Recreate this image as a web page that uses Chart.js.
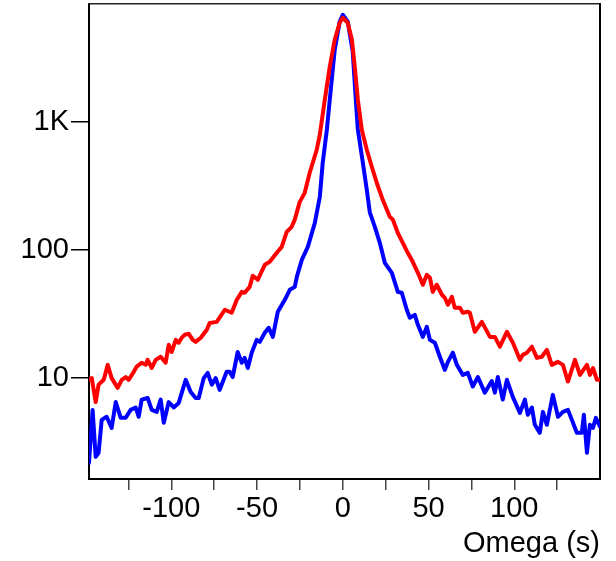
<!DOCTYPE html>
<html>
<head>
<meta charset="utf-8">
<script src="https://cdn.jsdelivr.net/npm/chart.js@4"></script>
<style>
  html, body { margin: 0; padding: 0; background: #fff; }
  #wrap { width: 616px; height: 561px; }
</style>
</head>
<body>
<div id="wrap"><canvas id="omegaChart"></canvas></div>
<script>
// omega scan, two traces (red drawn on top of blue)
const redOmega = [-148, -146.4, -144.1, -142.4, -139.4, -137.1, -134.8, -131.3, -128.9, -126.6, -124.9, -121.9, -120.2, -117.3, -114.9, -113.8, -111.4, -109.1, -106.2, -103.3, -101.5, -99.8, -97.4, -95.7, -93.9, -92.2, -89.8, -87.5, -85.8, -82.8, -79.3, -77.6, -73.5, -68.8, -64.8, -61.8, -58.9, -57.2, -54.3, -52.5, -49.6, -45.5, -42.6, -38.5, -35.6, -32.7, -29.8, -28.0, -25.1, -22.2, -19.3, -15.2, -13.4, -10.5, -7.6, -4.7, -1.8, 0, 2.9, 5.3, 7.0, 8.8, 11.1, 14.0, 16.9, 19.8, 23.3, 27.4, 29.2, 32.1, 35.0, 37.9, 40.8, 43.8, 46.7, 49.0, 50.8, 52.5, 54.8, 57.8, 59.5, 61.3, 63.6, 65.3, 68.3, 70.0, 72.9, 74.1, 77.0, 81.1, 85.8, 88.7, 91.6, 95.7, 99.2, 103.3, 105.0, 107.4, 110.3, 113.2, 116.1, 119.0, 121.9, 125.5, 128.4, 131.3, 135.4, 138.3, 142.4, 144.1, 145.9, 148.2, 150];
const redCounts = [9.7, 10.0, 6.5, 8.9, 9.7, 12.7, 10.0, 8.4, 9.7, 10.2, 9.7, 11.2, 12.3, 13.2, 12.7, 13.9, 12.0, 13.9, 14.7, 13.2, 18.2, 16.0, 19.9, 18.9, 20.7, 21.8, 22.2, 19.9, 19.2, 20.7, 23.9, 27.0, 27.5, 34.2, 32.4, 40.9, 47.2, 46.4, 51.6, 63.0, 58.6, 76.8, 81.0, 95.3, 106, 139, 152, 173, 238, 280, 402, 608, 796, 1490, 2700, 4400, 5970, 6530, 5970, 4400, 2700, 1490, 871, 608, 448, 336, 247, 182, 173, 136, 114, 95.3, 81.0, 66.5, 53.6, 64.1, 60.8, 47.2, 53.6, 44.8, 42.4, 37.4, 43.2, 35.4, 35.4, 32.4, 33.0, 32.4, 23.0, 27.5, 21.0, 21.0, 17.6, 23.0, 18.9, 13.9, 15.2, 15.8, 17.6, 14.4, 14.7, 16.6, 12.7, 13.4, 12.7, 9.4, 13.9, 10.6, 12.7, 10.6, 12.0, 9.7, 9.7];

const blueOmega = [-148, -145.9, -144.1, -142.4, -140.6, -137.7, -134.8, -132.4, -129.5, -126.6, -123.7, -120.8, -119.0, -117.3, -113.8, -111.4, -108.5, -106.2, -104.4, -101.5, -98.6, -95.7, -91.6, -88.7, -85.8, -84.0, -81.1, -78.8, -76.4, -74.1, -71.8, -67.7, -65.9, -64.2, -61.3, -58.9, -57.2, -55.4, -53.1, -50.2, -48.4, -45.5, -43.2, -40.8, -37.9, -33.8, -30.9, -28.0, -26.8, -23.9, -20.4, -16.3, -13.4, -11.7, -9.3, -7.6, -4.7, -1.8, 0, 2.9, 5.8, 7.6, 8.8, 11.7, 14.0, 15.8, 18.7, 21.6, 24.5, 28.6, 32.1, 34.4, 37.3, 39.1, 42.0, 43.8, 46.7, 49.0, 50.8, 53.7, 56.6, 59.5, 61.3, 64.2, 66.5, 70.0, 72.9, 75.8, 78.8, 82.8, 86.9, 88.7, 90.4, 93.3, 95.7, 99.2, 103.3, 106.2, 107.9, 110.3, 112.0, 114.9, 116.7, 119.0, 122.5, 125.5, 128.4, 131.3, 133.6, 136.5, 139.4, 140.6, 142.4, 144.1, 145.9, 147.6, 150];
const blueCounts = [2.18, 5.65, 2.43, 2.61, 4.72, 4.99, 4.09, 6.5, 4.9, 4.9, 5.65, 5.9, 4.99, 6.8, 7.0, 5.65, 5.45, 6.8, 4.48, 6.5, 5.9, 6.4, 9.7, 7.8, 7.0, 7.0, 10.0, 11.0, 8.9, 10.0, 8.1, 11.2, 11.2, 10.2, 16.0, 13.2, 14.4, 12.0, 15.8, 19.9, 19.2, 22.6, 24.7, 21.0, 33.0, 40.9, 49.0, 51.6, 61.8, 83.9, 106, 163, 261, 481, 871, 1490, 3670, 6080, 6890, 6080, 3540, 1490, 871, 481, 296, 196, 152, 114, 79.6, 66.5, 47.2, 46.4, 34.2, 29.6, 31.2, 26.1, 21.0, 25.2, 19.9, 18.9, 14.7, 11.6, 13.4, 15.8, 12.7, 10.6, 11.0, 8.6, 10.2, 7.7, 9.5, 7.7, 10.2, 6.8, 9.7, 7.1, 5.36, 6.8, 5.17, 5.9, 4.32, 3.74, 5.45, 4.32, 7.4, 4.99, 5.45, 5.65, 4.72, 3.74, 3.74, 5.17, 2.61, 4.32, 4.09, 4.9, 4.17];

const xTicks = [-125, -100, -75, -50, -25, 0, 25, 50, 75, 100, 125];
const xTickLabels = ["", "-100", "", "-50", "", "0", "", "50", "", "100", ""];
const yTicks = [10, 100, 1000];
const yTickLabels = ["10", "100", "1K"];

const toPoints = (xs, ys) => xs.map((x, i) => ({ x: x, y: ys[i] }));

const font = { family: "'Liberation Sans', Arial, sans-serif", size: 29 };

// keep the plot box fixed: chart.js would otherwise reserve room for half a label
function noPad(s) {
  s.paddingTop = 0;
  s.paddingBottom = 0;
}

new Chart(document.getElementById("omegaChart"), {
  type: "line",
  data: {
    datasets: [
      {
        label: "red",
        data: toPoints(redOmega, redCounts),
        borderColor: "#ff0000",
        borderWidth: 4,
        borderJoinStyle: "round",
        borderCapStyle: "round",
        pointRadius: 0,
        tension: 0
      },
      {
        label: "blue",
        data: toPoints(blueOmega, blueCounts),
        borderColor: "#0000ff",
        borderWidth: 4,
        borderJoinStyle: "round",
        borderCapStyle: "round",
        pointRadius: 0,
        tension: 0
      }
    ]
  },
  options: {
    responsive: true,
    maintainAspectRatio: false,
    devicePixelRatio: 1,
    animation: false,
    layout: { padding: { top: 4, right: 16, left: 0, bottom: 0 } },
    plugins: { legend: { display: false }, tooltip: { enabled: false } },
    scales: {
      x: {
        type: "linear",
        position: "bottom",
        min: -148,
        max: 150,
        afterBuildTicks: s => { s.ticks = xTicks.map(v => ({ value: v })); },
        afterFit: s => { s.height = 82; },
        ticks: {
          color: "#000",
          font: font,
          padding: 2,
          maxRotation: 0,
          autoSkip: false,
          callback: (v, i) => xTickLabels[i]
        },
        grid: { drawOnChartArea: false, drawTicks: true, tickLength: 11, color: "#444", lineWidth: 1.5 },
        border: { display: true, color: "#000", width: 2 },
        title: {
          display: true,
          text: "Omega (s)",
          align: "end",
          color: "#000",
          font: font,
          padding: { top: 0, bottom: 0 }
        }
      },
      y: {
        type: "logarithmic",
        position: "left",
        min: 1.63,
        max: 8360,
        afterBuildTicks: s => { s.ticks = yTicks.map(v => ({ value: v })); },
        afterFit: s => { s.width = 89; noPad(s); },
        ticks: {
          color: "#000",
          font: font,
          padding: 2,
          autoSkip: false,
          callback: (v, i) => yTickLabels[i]
        },
        grid: { drawOnChartArea: false, drawTicks: true, tickLength: 18, color: "#000", lineWidth: 1.5 },
        border: { display: true, color: "#000", width: 2 }
      },
      xTop: {
        type: "linear",
        position: "top",
        min: -148,
        max: 150,
        afterFit: s => { s.height = 0; },
        ticks: { display: false },
        grid: { display: false },
        border: { display: true, color: "#222", width: 1.5 }
      },
      yRight: {
        type: "linear",
        position: "right",
        afterFit: s => { s.width = 0; noPad(s); },
        ticks: { display: false },
        grid: { display: false },
        border: { display: true, color: "#000", width: 2 }
      }
    }
  }
});
</script>
</body>
</html>
